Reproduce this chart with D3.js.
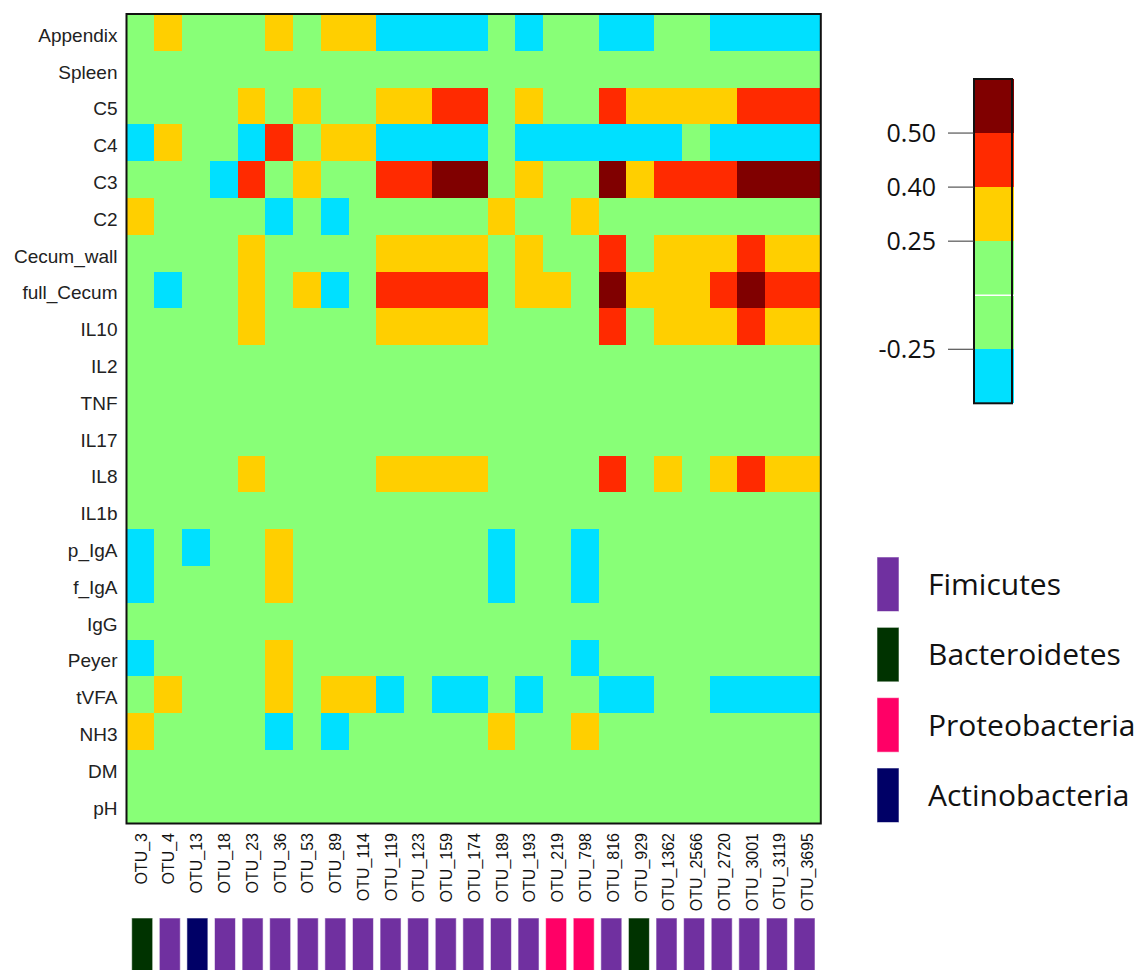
<!DOCTYPE html>
<html>
<head>
<meta charset="utf-8">
<script src="https://cdn.jsdelivr.net/npm/d3@7"></script>
<style>
  html, body { margin: 0; padding: 0; background: #ffffff; }
  svg { display: block; }
</style>
</head>
<body>
<svg id="chart" width="1148" height="970"></svg>
<script>
// ---------------- DATA ----------------
const rows = ["Appendix","Spleen","C5","C4","C3","C2","Cecum_wall","full_Cecum","IL10","IL2","TNF","IL17","IL8","IL1b","p_IgA","f_IgA","IgG","Peyer","tVFA","NH3","DM","pH"];
const otus = ["OTU_3","OTU_4","OTU_13","OTU_18","OTU_23","OTU_36","OTU_53","OTU_89","OTU_114","OTU_119","OTU_123","OTU_159","OTU_174","OTU_189","OTU_193","OTU_219","OTU_798","OTU_816","OTU_929","OTU_1362","OTU_2566","OTU_2720","OTU_3001","OTU_3119","OTU_3695"];
const phylumOfOtu = ["Bacteroidetes","Fimicutes","Actinobacteria","Fimicutes","Fimicutes","Fimicutes","Fimicutes","Fimicutes","Fimicutes","Fimicutes","Fimicutes","Fimicutes","Fimicutes","Fimicutes","Fimicutes","Proteobacteria","Proteobacteria","Fimicutes","Bacteroidetes","Fimicutes","Fimicutes","Fimicutes","Fimicutes","Fimicutes","Fimicutes"];
const phyla = ["Fimicutes","Bacteroidetes","Proteobacteria","Actinobacteria"];
const phylumColors = ["#7030a0","#003300","#ff0066","#000066"];

// correlation values (estimated from colour bins), one array per row
const values = [
  [0,.3,0,0,0,.3,0,.3,.3,-.3,-.3,-.3,-.3,0,-.3,0,0,-.3,-.3,0,0,-.3,-.3,-.3,-.3], // Appendix
  [0,0,0,0,0,0,0,0,0,0,0,0,0,0,0,0,0,0,0,0,0,0,0,0,0],                           // Spleen
  [0,0,0,0,.3,0,.3,0,0,.3,.3,.45,.45,0,.3,0,0,.45,.3,.3,.3,.3,.45,.45,.45],       // C5
  [-.3,.3,0,0,-.3,.45,0,.3,.3,-.3,-.3,-.3,-.3,0,-.3,-.3,-.3,-.3,-.3,-.3,0,-.3,-.3,-.3,-.3], // C4
  [0,0,0,-.3,.45,0,.3,0,0,.45,.45,.55,.55,0,.3,0,0,.55,.3,.45,.45,.45,.55,.55,.55], // C3
  [.3,0,0,0,0,-.3,0,-.3,0,0,0,0,0,.3,0,0,.3,0,0,0,0,0,0,0,0],                     // C2
  [0,0,0,0,.3,0,0,0,0,.3,.3,.3,.3,0,.3,0,0,.45,0,.3,.3,.3,.45,.3,.3],             // Cecum_wall
  [0,-.3,0,0,.3,0,.3,-.3,0,.45,.45,.45,.45,0,.3,.3,0,.55,.3,.3,.3,.45,.55,.45,.45], // full_Cecum
  [0,0,0,0,.3,0,0,0,0,.3,.3,.3,.3,0,0,0,0,.45,0,.3,.3,.3,.45,.3,.3],              // IL10
  [0,0,0,0,0,0,0,0,0,0,0,0,0,0,0,0,0,0,0,0,0,0,0,0,0],                           // IL2
  [0,0,0,0,0,0,0,0,0,0,0,0,0,0,0,0,0,0,0,0,0,0,0,0,0],                           // TNF
  [0,0,0,0,0,0,0,0,0,0,0,0,0,0,0,0,0,0,0,0,0,0,0,0,0],                           // IL17
  [0,0,0,0,.3,0,0,0,0,.3,.3,.3,.3,0,0,0,0,.45,0,.3,0,.3,.45,.3,.3],               // IL8
  [0,0,0,0,0,0,0,0,0,0,0,0,0,0,0,0,0,0,0,0,0,0,0,0,0],                           // IL1b
  [-.3,0,-.3,0,0,.3,0,0,0,0,0,0,0,-.3,0,0,-.3,0,0,0,0,0,0,0,0],                   // p_IgA
  [-.3,0,0,0,0,.3,0,0,0,0,0,0,0,-.3,0,0,-.3,0,0,0,0,0,0,0,0],                     // f_IgA
  [0,0,0,0,0,0,0,0,0,0,0,0,0,0,0,0,0,0,0,0,0,0,0,0,0],                           // IgG
  [-.3,0,0,0,0,.3,0,0,0,0,0,0,0,0,0,0,-.3,0,0,0,0,0,0,0,0],                       // Peyer
  [0,.3,0,0,0,.3,0,.3,.3,-.3,0,-.3,-.3,0,-.3,0,0,-.3,-.3,0,0,-.3,-.3,-.3,-.3],    // tVFA
  [.3,0,0,0,0,-.3,0,-.3,0,0,0,0,0,.3,0,0,.3,0,0,0,0,0,0,0,0],                     // NH3
  [0,0,0,0,0,0,0,0,0,0,0,0,0,0,0,0,0,0,0,0,0,0,0,0,0],                           // DM
  [0,0,0,0,0,0,0,0,0,0,0,0,0,0,0,0,0,0,0,0,0,0,0,0,0]                            // pH
];

const thresholds = [-0.25, 0.25, 0.40, 0.50];
const binColors = ["#00e0ff","#88ff77","#ffcf00","#ff2a00","#800000"];
const legendBreaks = [-0.40, -0.25, 0, 0.25, 0.40, 0.50, 0.60];
const legendSegColors = ["#00e0ff","#88ff77","#88ff77","#ffcf00","#ff2a00","#800000"];
const tickValues = [0.50, 0.40, 0.25, -0.25];
const tickLabels = ["0.50","0.40","0.25","-0.25"];

// ---------------- CHART ----------------
const svg = d3.select("#chart");
const color = d3.scaleThreshold().domain(thresholds).range(binColors);

const x = d3.scaleBand().domain(otus).range([126.5, 820.8]).padding(0);
const y = d3.scaleBand().domain(rows).range([14, 823.5]).padding(0);

const cells = [];
rows.forEach((r, i) => otus.forEach((o, j) => cells.push({row: r, otu: o, v: values[i][j]})));

svg.append("g").selectAll("rect").data(cells).join("rect")
  .attr("x", d => x(d.otu))
  .attr("y", d => y(d.row))
  .attr("width", x.bandwidth() + 0.5)
  .attr("height", y.bandwidth() + 0.5)
  .attr("fill", d => color(d.v))
  .attr("shape-rendering", "crispEdges");

svg.append("rect")
  .attr("x", 126.5).attr("y", 14)
  .attr("width", 820.8 - 126.5).attr("height", 823.5 - 14)
  .attr("fill", "none").attr("stroke", "#111").attr("stroke-width", 2);

// row labels
svg.append("g").selectAll("text").data(rows).join("text")
  .attr("x", 117.5)
  .attr("y", d => y(d) + y.bandwidth() / 2 + 9.5)
  .attr("text-anchor", "end")
  .attr("font-family", "'Liberation Sans', Arial, sans-serif")
  .attr("font-size", 19)
  .attr("fill", "#222")
  .text(d => d);

// column labels
svg.append("g").selectAll("text").data(otus).join("text")
  .attr("transform", d => `translate(${x(d) + x.bandwidth() / 2 + 0.5},833) rotate(-90)`)
  .attr("dy", "0.36em")
  .attr("text-anchor", "end")
  .attr("font-family", "'Liberation Sans', Arial, sans-serif")
  .attr("font-size", 16)
  .attr("fill", "#111")
  .text(d => d);

// phylum bars
const pColor = d3.scaleOrdinal().domain(phyla).range(phylumColors);
const xb = d3.scaleBand().domain(otus).range([128.4, 818.3]).paddingInner(0.24).paddingOuter(0.12);
svg.append("g").selectAll("rect").data(otus).join("rect")
  .attr("x", d => xb(d))
  .attr("y", 918)
  .attr("width", xb.bandwidth())
  .attr("height", 60)
  .attr("fill", (d, i) => pColor(phylumOfOtu[i]))
  .attr("stroke", "rgba(255,255,255,0.55)")
  .attr("stroke-width", 1);

// colour bar
const cb = d3.scaleLinear().domain(legendBreaks)
  .range(legendBreaks.map((_, i) => 403.3 - i * (403.3 - 79) / (legendBreaks.length - 1)));
const segs = legendSegColors.map((c, i) => ({lo: legendBreaks[i], hi: legendBreaks[i + 1], c}));
const cbg = svg.append("g");
cbg.selectAll("rect").data(segs).join("rect")
  .attr("x", 974).attr("width", 40)
  .attr("y", d => cb(d.hi))
  .attr("height", d => cb(d.lo) - cb(d.hi))
  .attr("fill", d => d.c)
  .attr("shape-rendering", "crispEdges");
cbg.append("line")
  .attr("x1", 974).attr("x2", 1014)
  .attr("y1", cb(0)).attr("y2", cb(0))
  .attr("stroke", "#fff").attr("stroke-width", 1.5);
cbg.append("rect")
  .attr("x", 974).attr("y", 79).attr("width", 38).attr("height", 403.3 - 79)
  .attr("fill", "none").attr("stroke", "#111").attr("stroke-width", 2);
cbg.selectAll("line.tick").data(tickValues).join("line")
  .attr("class", "tick")
  .attr("x1", 948).attr("x2", 974)
  .attr("y1", d => cb(d)).attr("y2", d => cb(d))
  .attr("stroke", "#333").attr("stroke-width", 1);
cbg.selectAll("text").data(tickValues).join("text")
  .attr("x", 936)
  .attr("y", d => cb(d) + 8.5)
  .attr("text-anchor", "end")
  .attr("font-family", "'Open Sans', sans-serif")
  .attr("font-size", 25)
  .attr("fill", "#111")
  .text((d, i) => tickLabels[i]);

// phylum legend
const ly = d3.scalePoint().domain(phyla).range([557, 768]);
const lg = svg.append("g");
lg.selectAll("rect").data(phyla).join("rect")
  .attr("x", 877).attr("y", d => ly(d))
  .attr("width", 22).attr("height", 54.5)
  .attr("fill", d => pColor(d))
  .attr("stroke", "rgba(255,255,255,0.55)").attr("stroke-width", 1);
lg.selectAll("text").data(phyla).join("text")
  .attr("x", 928).attr("y", d => ly(d) + 38)
  .attr("font-family", "'Open Sans', sans-serif")
  .attr("font-size", 30)
  .attr("fill", "#111")
  .text(d => d);
</script>
</body>
</html>
